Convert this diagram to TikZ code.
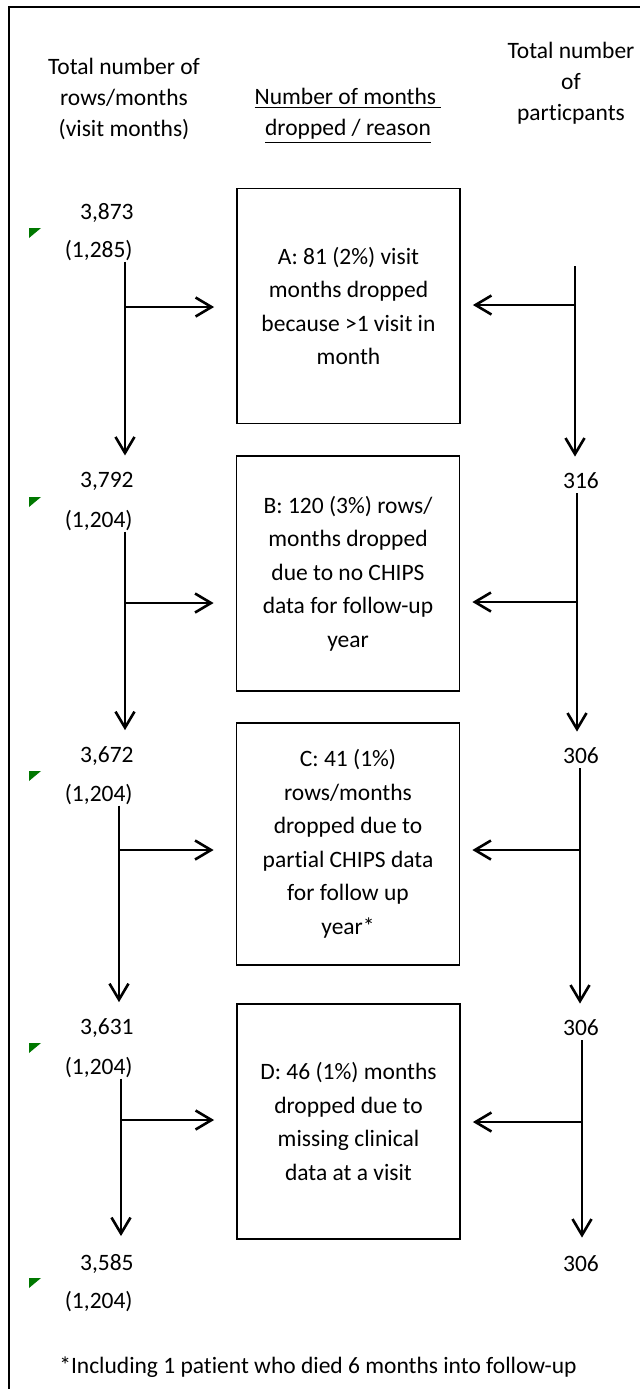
\documentclass[tikz,border=0pt]{standalone}
\usepackage{fontspec}
\setmainfont{Carlito}[Ligatures=NoCommon]
\usetikzlibrary{arrows.meta, positioning}
\definecolor{errgreen}{RGB}{0,120,0}

\begin{document}
\begin{tikzpicture}[x=0.5pt, y=-0.5pt, font=\fontsize{11.75}{15.5}\selectfont,
    dropbox/.style={draw, rectangle, line width=0.9pt, minimum width=111.5pt, minimum height=117.5pt, align=center, inner sep=2pt, font=\fontsize{11.75}{16.75}\selectfont},
    count/.style={anchor=east, inner sep=0pt},
    partcount/.style={inner sep=0pt},
    flow/.style={-{Straight Barb[length=8pt,width=9.5pt]}, line width=1.3pt}]
    \useasboundingbox (0,0) rectangle (640,1389);
    \draw[line width=1pt] (9,1389) -- (9,7) -- (640,7);

    % column headings
    \node (hrows) [align=center] at (124,99) {Total number of\\rows/months\\(visit months)};
    \node (hdrop) [align=center] at (348,116) {\underline{Number of months\ }\\\underline{dropped / reason}};
    \node (hpart) [align=center] at (571,83) {Total number\\of\\particpants};

    % rows / visit months
    \node (t1) [count] at (134,213) {3,873};
    \node (v1) [count] at (133,251) {(1,285)};
    \node (t2) [count] at (134,481) {3,792};
    \node (v2) [count] at (133,521) {(1,204)};
    \node (t3) [count] at (134,756) {3,672};
    \node (v3) [count] at (133,795) {(1,204)};
    \node (t4) [count] at (134,1028) {3,631};
    \node (v4) [count] at (133,1068) {(1,204)};
    \node (t5) [count] at (134,1264) {3,585};
    \node (v5) [count] at (133,1302) {(1,204)};
    \foreach \y in {233,502,776,1048,1283}
        \fill[errgreen] (29,\y-5) -- (41,\y-5) -- (29,\y+5) -- cycle;

    % participants
    \coordinate (p1) at (575,266);
    \node (p2) [partcount] at (581,481) {316};
    \node (p3) [partcount] at (581,756) {306};
    \node (p4) [partcount] at (581,1028) {306};
    \node (p5) [partcount] at (581,1264) {306};

    % reasons
    \node (A) [dropbox] at (348.5,306) {A: 81 (2\%) visit\\months dropped\\because >1 visit in\\month};
    \node (B) [dropbox] at (348,573.5) {B: 120 (3\%) rows/\\months dropped\\due to no CHIPS\\data for follow-up\\year};
    \node (C) [dropbox, minimum height=121pt] at (348,844) {C: 41 (1\%)\\rows/months\\dropped due to\\partial CHIPS data\\for follow up\\year*};
    \node (D) [dropbox] at (348.5,1121.5) {D: 46 (1\%) months\\dropped due to\\missing clinical\\data at a visit};

    \node (note) at (318,1367) {*Including 1 patient who died 6 months into follow-up};

    % line positions
    \coordinate (lx1) at (125,307);
    \coordinate (lx2) at (125,603);
    \coordinate (lx3) at (119,850);
    \coordinate (lx4) at (121,1120);
    \coordinate (rx1) at (575,305);
    \coordinate (rx2) at (577,602);
    \coordinate (rx3) at (580,850);
    \coordinate (rx4) at (582,1122);

    \draw[flow, shorten >=8pt] (v1.south -| lx1) -- (t2.north -| lx1);
    \draw[flow, shorten >=8pt] (v2.south -| lx2) -- (t3.north -| lx2);
    \draw[flow, shorten >=8pt] (v3.south -| lx3) -- (t4.north -| lx3);
    \draw[flow, shorten >=9pt] (v4.south -| lx4) -- (t5.north -| lx4);
    \draw[flow, shorten >=11pt] (lx1) -- (A.west |- lx1);
    \draw[flow, shorten >=11pt] (lx2) -- (B.west |- lx2);
    \draw[flow, shorten >=11pt] (lx3) -- (C.west |- lx3);
    \draw[flow, shorten >=11pt] (lx4) -- (D.west |- lx4);

    \draw[flow, shorten >=8pt] (p1) -- (p2.north -| rx1);
    \draw[flow, shorten >=8pt, shorten <=2pt] (p2.south -| rx2) -- (p3.north -| rx2);
    \draw[flow, shorten >=8pt, shorten <=2pt] (p3.south -| rx3) -- (p4.north -| rx3);
    \draw[flow, shorten >=9pt, shorten <=2pt] (p4.south -| rx4) -- (p5.north -| rx4);
    \draw[flow, shorten >=6pt] (rx1) -- (A.east |- rx1);
    \draw[flow, shorten >=6pt] (rx2) -- (B.east |- rx2);
    \draw[flow, shorten >=6pt] (rx3) -- (C.east |- rx3);
    \draw[flow, shorten >=6pt] (rx4) -- (D.east |- rx4);
\end{tikzpicture}
\end{document}
